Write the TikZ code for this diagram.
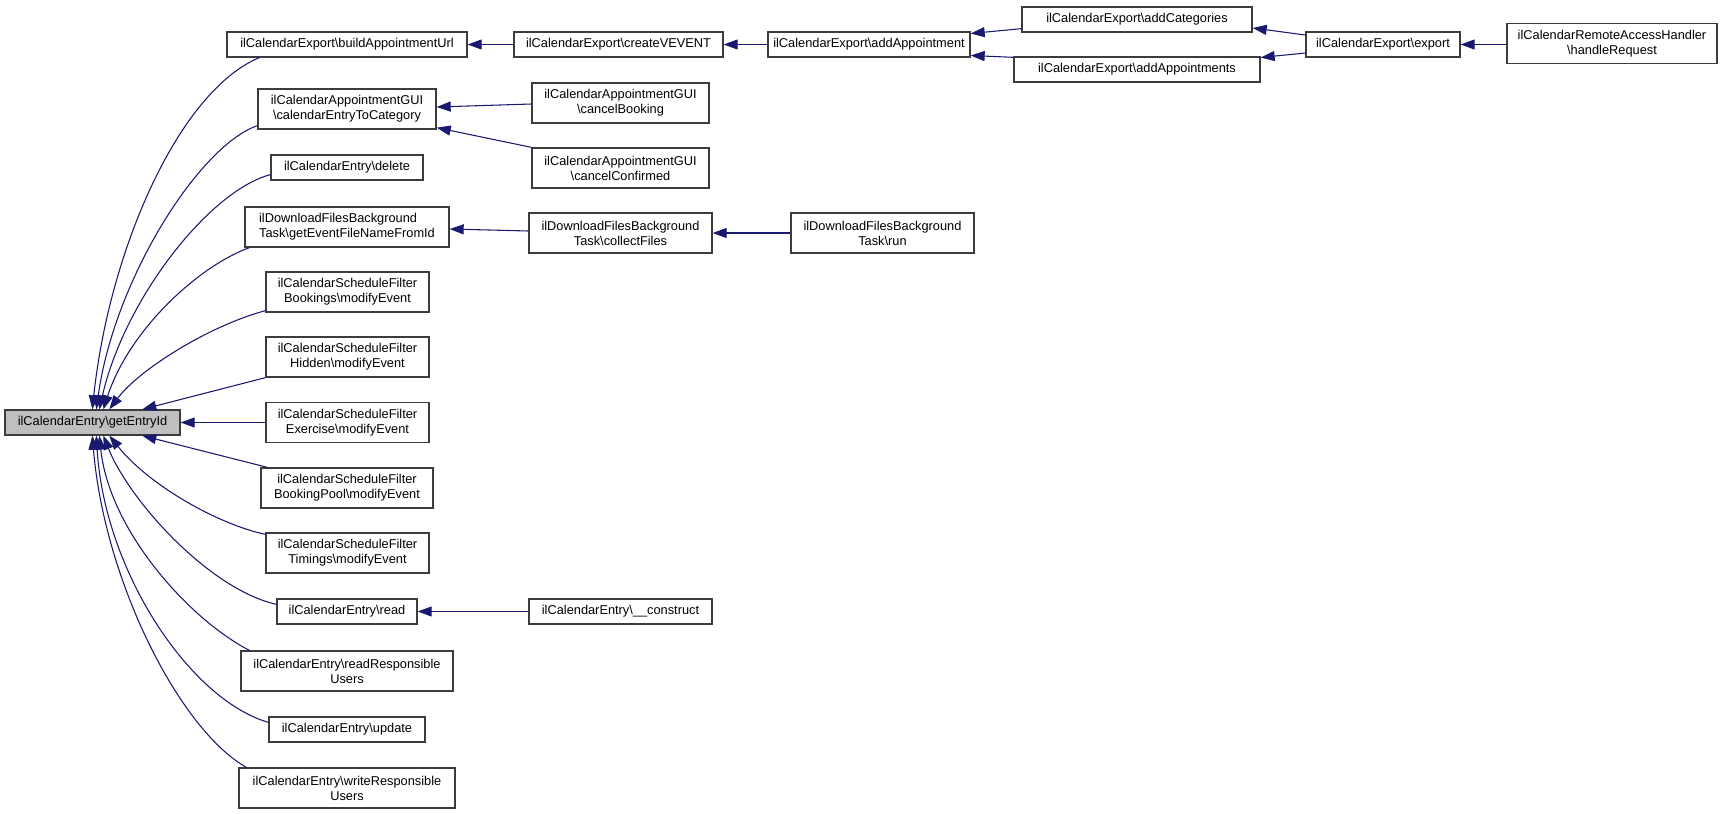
\documentclass[tikz,border=0pt]{standalone}
\usepackage{fontspec}
\setmainfont{Liberation Sans}
\usetikzlibrary{arrows.meta,calc}
\definecolor{edgeblue}{RGB}{25,25,112}
\definecolor{boxline}{RGB}{60,60,60}
\definecolor{mainfill}{RGB}{191,191,191}
\newcommand{\bsl}{\textbackslash}
\begin{document}
\begin{tikzpicture}[x=0.75pt,y=-0.75pt,
  fn/.style={draw=boxline,line width=1pt,fill=white,inner sep=1pt,align=center,
    font=\fontsize{9.6}{11.3}\selectfont},
  bx/.style 2 args={minimum width=#1*0.75pt,minimum height=#2*0.75pt},
  edge/.style={draw=edgeblue,line width=0.8pt,-{Triangle[length=10.5pt,width=7.5pt]}}]
\useasboundingbox (0,0) rectangle (1736,814);
% main node
\node[fn,bx={175}{25},fill=mainfill] (m) at (92.5,422.5) {ilCalendarEntry\bsl getEntryId};
% column 2
\node[fn,bx={240}{25}] (b1) at (347,44.5) {ilCalendarExport\bsl buildAppointmentUrl};
\node[fn,bx={178}{40}] (b2) at (347,109) {ilCalendarAppointmentGUI\\\bsl calendarEntryToCategory};
\node[fn,bx={152}{25}] (b3) at (347,167.5) {ilCalendarEntry\bsl delete};
\node[fn,bx={204}{40},align=left] (b4) at (347,227) {ilDownloadFilesBackground\\Task\bsl getEventFileNameFromId};
\node[fn,bx={163}{40}] (b5) at (347.5,292) {ilCalendarScheduleFilter\\Bookings\bsl modifyEvent};
\node[fn,bx={163}{40}] (b6) at (347.5,357) {ilCalendarScheduleFilter\\Hidden\bsl modifyEvent};
\node[fn,bx={163}{40}] (b7) at (347.5,422.5) {ilCalendarScheduleFilter\\Exercise\bsl modifyEvent};
\node[fn,bx={172}{40}] (b8) at (347,488) {ilCalendarScheduleFilter\\BookingPool\bsl modifyEvent};
\node[fn,bx={163}{40}] (b9) at (347.5,553) {ilCalendarScheduleFilter\\Timings\bsl modifyEvent};
\node[fn,bx={140}{25}] (b10) at (347,611.5) {ilCalendarEntry\bsl read};
\node[fn,bx={212}{40}] (b11) at (347,671) {ilCalendarEntry\bsl readResponsible\\Users};
\node[fn,bx={156}{25}] (b12) at (347,729.5) {ilCalendarEntry\bsl update};
\node[fn,bx={216}{40}] (b13) at (347,788) {ilCalendarEntry\bsl writeResponsible\\Users};
% column 3
\node[fn,bx={209}{25}] (c1) at (618.5,44.5) {ilCalendarExport\bsl createVEVENT};
\node[fn,bx={177}{40}] (c2) at (620.5,103) {ilCalendarAppointmentGUI\\\bsl cancelBooking};
\node[fn,bx={177}{40}] (c3) at (620.5,168) {ilCalendarAppointmentGUI\\\bsl cancelConfirmed};
\node[fn,bx={183}{40}] (c4) at (620.5,233) {ilDownloadFilesBackground\\Task\bsl collectFiles};
\node[fn,bx={183}{25}] (c5) at (620.5,611.5) {ilCalendarEntry\bsl\_\_construct};
% column 4
\node[fn,bx={202}{25}] (d1) at (869,44.5) {ilCalendarExport\bsl addAppointment};
\node[fn,bx={183}{40}] (d2) at (882.5,233) {ilDownloadFilesBackground\\Task\bsl run};
% column 5
\node[fn,bx={230}{25}] (e1) at (1137,19.5) {ilCalendarExport\bsl addCategories};
\node[fn,bx={246}{25}] (e2) at (1137,69.5) {ilCalendarExport\bsl addAppointments};
% column 6, 7
\node[fn,bx={154}{25}] (f1) at (1383,44.5) {ilCalendarExport\bsl export};
\node[fn,bx={210}{40}] (g1) at (1612,43.5) {ilCalendarRemoteAccessHandler\\\bsl handleRequest};

% edges into main node (top)
\draw[edge] ($(b1.south west)+(33,0)$) .. controls +(-80,33) and +(17,-160) .. ($(m.north west)+(88,0)$);
\draw[edge] ($(b2.south west)+(0,-4)$) .. controls +(-58,20) and +(18,-130) .. ($(m.north west)+(92,0)$);
\draw[edge] ($(b3.south west)+(0,-6)$) .. controls +(-61,16) and +(25,-110) .. ($(m.north west)+(95,0)$);
\draw[edge] ($(b4.south west)+(5,0)$) .. controls +(-50,18) and +(26,-80) .. ($(m.north west)+(99,0)$);
\draw[edge] ($(b5.south west)+(0,-2)$) .. controls +(-56,15) and +(30,-40) .. ($(m.north west)+(105,0)$);
\draw[edge] (b6.south west) -- ($(m.north west)+(138,0)$);
\draw[edge] (b7.west) -- (m.east);
% edges into main node (bottom)
\draw[edge] ($(b8.north west)+(7,0)$) -- ($(m.south west)+(138,0)$);
\draw[edge] ($(b9.north west)+(0,2)$) .. controls +(-47,-10) and +(40,50) .. ($(m.south west)+(105,0)$);
\draw[edge] ($(b10.north west)+(0,6)$) .. controls +(-67,-15) and +(26,65) .. ($(m.south west)+(99,0)$);
\draw[edge] ($(b11.north west)+(9,0)$) .. controls +(-60,-31) and +(10,95) .. ($(m.south west)+(95,0)$);
\draw[edge] ($(b12.north west)+(0,6)$) .. controls +(-79,-23) and +(8,135) .. ($(m.south west)+(92,0)$);
\draw[edge] ($(b13.north west)+(8,0)$) .. controls +(-67,-38) and +(12,145) .. ($(m.south west)+(88,0)$);

% other edges
\draw[edge] (c1.west) -- (b1.east);
\draw[edge] (d1.west) -- (c1.east);
\draw[edge] ($(e1.south west)+(0,-4)$) -- ($(d1.east)+(0,-11)$);
\draw[edge] ($(e2.north west)+(0,1)$) -- ($(d1.east)+(0,11)$);
\draw[edge] ($(f1.west)+(0,-9.5)$) -- ($(e1.east)+(0,8.5)$);
\draw[edge] ($(f1.west)+(0,8.5)$) -- ($(e2.east)+(0,-12)$);
\draw[edge] (g1.west |- f1.east) -- (f1.east);
\draw[edge] ($(c2.west)+(0,1)$) -- ($(b2.east)+(0,-2)$);
\draw[edge] (c3.north west) -- ($(b2.south east)+(0,-2)$);
\draw[edge] ($(c4.west)+(0,-2)$) -- ($(b4.east)+(0,2)$);
\draw[edge] (d2.west) -- (c4.east);
\draw[edge] (c5.west) -- (b10.east);
\end{tikzpicture}
\end{document}
